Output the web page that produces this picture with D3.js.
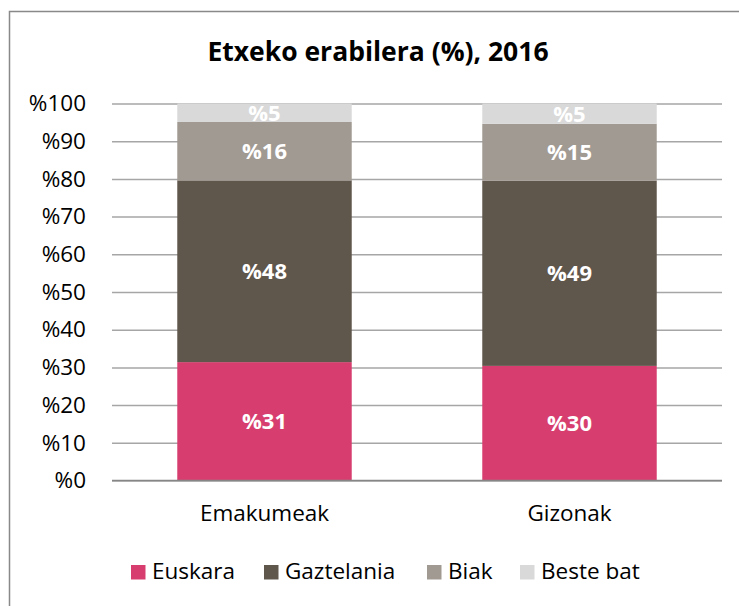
<!DOCTYPE html>
<html>
<head>
<meta charset="utf-8">
<script src="https://cdn.jsdelivr.net/npm/d3@7"></script>
<style>
  body { margin: 0; background: #fff; }
  text { font-family: "Open Sans", sans-serif; }
</style>
</head>
<body>
<div id="chart"></div>
<script>
// data
const categories = ["Emakumeak", "Gizonak"];
const series = ["Euskara", "Gaztelania", "Biak", "Beste bat"];
const euskara = [31.4, 30.4];
const gaztelania = [48.2, 49.1];
const biak = [15.5, 15.1];
const besteBat = [4.9, 5.4];
const yTicks = [0, 10, 20, 30, 40, 50, 60, 70, 80, 90, 100];
const colors = ["#D73E6F", "#5F564C", "#A19A92", "#D9D9D9"];

const width = 739, height = 606;
const margin = { left: 112, right: 17, top: 103.5, bottom: 125.5 };
const fontSize = 22.5;

const rows = categories.map((c, i) => ({
    cat: c,
    "Euskara": euskara[i],
    "Gaztelania": gaztelania[i],
    "Biak": biak[i],
    "Beste bat": besteBat[i]
}));

const stacked = d3.stack().keys(series)(rows);

let svg = d3.select("#chart")
    .append("svg")
    .attr("width", width)
    .attr("height", height);

// outer frame (only top and left edges are inside the picture)
svg.append("rect")
    .attr("x", 9.5)
    .attr("y", 11.5)
    .attr("width", width + 20)
    .attr("height", height + 20)
    .attr("fill", "#fff")
    .attr("stroke", "#898989")
    .attr("stroke-width", 1.5);

let x = d3.scaleBand()
    .domain(categories)
    .range([margin.left, width - margin.right])
    .paddingInner(0.428)
    .paddingOuter(0.214);

let y = d3.scaleLinear()
    .domain([0, 100])
    .range([height - margin.bottom, margin.top]);

// gridlines + y labels
let yAxis = d3.axisLeft(y)
    .tickValues(yTicks)
    .tickSize(-(width - margin.left - margin.right))
    .tickPadding(26)
    .tickFormat(d => "%" + d);

let gy = svg.append("g")
    .attr("transform", `translate(${margin.left},0)`)
    .call(yAxis);
gy.select(".domain").remove();
gy.selectAll(".tick line")
    .attr("stroke", "#A6A6A6")
    .attr("stroke-width", 1.5);
gy.selectAll(".tick text")
    .attr("font-size", fontSize)
    .attr("fill", "#000")
    .style("font-family", "Open Sans");

// bars
let layers = svg.append("g")
    .selectAll("g")
    .data(stacked)
    .enter()
    .append("g")
    .attr("fill", (d, i) => colors[i]);

layers.selectAll("rect")
    .data(d => d)
    .enter()
    .append("rect")
    .attr("x", d => x(d.data.cat))
    .attr("width", x.bandwidth())
    .attr("y", d => y(d[1]))
    .attr("height", d => y(d[0]) - y(d[1]));

// value labels
layers.selectAll("text")
    .data(d => d)
    .enter()
    .append("text")
    .attr("x", d => x(d.data.cat) + x.bandwidth() / 2)
    .attr("y", d => (y(d[0]) + y(d[1])) / 2)
    .attr("dy", "0.36em")
    .attr("text-anchor", "middle")
    .attr("fill", "#fff")
    .attr("font-size", 22)
    .attr("font-weight", "bold")
    .text(d => "%" + Math.round(d[1] - d[0]));

// baseline
svg.append("line")
    .attr("x1", margin.left)
    .attr("x2", width - margin.right)
    .attr("y1", y(0))
    .attr("y2", y(0))
    .attr("stroke", "#868686")
    .attr("stroke-width", 1.5);

// category labels
let xAxis = d3.axisBottom(x).tickSize(0).tickPadding(25);
let gx = svg.append("g")
    .attr("transform", `translate(0,${y(0)})`)
    .call(xAxis);
gx.select(".domain").remove();
gx.selectAll(".tick text")
    .attr("font-size", fontSize)
    .attr("fill", "#000")
    .style("font-family", "Open Sans");

// title
svg.append("text")
    .attr("x", 378)
    .attr("y", 60.5)
    .attr("text-anchor", "middle")
    .attr("font-size", 26.5)
    .attr("font-weight", "bold")
    .attr("fill", "#000")
    .text("Etxeko erabilera (%), 2016");

// legend
const legendX = [131, 264, 427, 520];
let legend = svg.append("g")
    .selectAll("g")
    .data(series)
    .enter()
    .append("g")
    .attr("transform", (d, i) => `translate(${legendX[i]},565)`);

legend.append("rect")
    .attr("width", 14.5)
    .attr("height", 14.5)
    .attr("fill", (d, i) => colors[i]);

legend.append("text")
    .attr("x", 21)
    .attr("y", 14)
    .attr("font-size", fontSize)
    .attr("fill", "#000")
    .text(d => d);
</script>
</body>
</html>
